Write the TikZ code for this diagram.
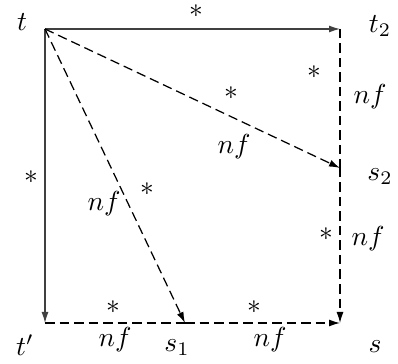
\documentclass[tikz,border=0pt]{standalone}
\usetikzlibrary{arrows.meta}
\begin{document}
\begin{tikzpicture}[x=0.4pt,y=-0.4pt,
  solidarrow/.style={line width=0.5pt,draw=black!75,-{Latex[length=4.4pt,width=2.8pt]}},
  dasharrow/.style={line width=0.5pt,dash pattern=on 3.8pt off 2pt,-{Latex[length=4.4pt,width=2.8pt]}},
  dashline/.style={line width=0.5pt,dash pattern=on 3.8pt off 2pt},
  lbl/.style={inner sep=0pt,scale=1.1}]
\useasboundingbox (0,0) rectangle (398,364);
\coordinate (t) at (45,29);
\coordinate (t2) at (340,29);
\coordinate (tp) at (45,323);
\coordinate (s) at (340,323);
\coordinate (s1) at (185,323);
\coordinate (s2) at (340,168);
% corner labels
\node[lbl] (lt) at (22,22) {$t$};
\node[lbl] (lt2) at (380,26) {$t_2$};
\node[lbl] (ls2) at (380,177) {$s_2$};
\node[lbl] (ltp) at (25,345) {$t'$};
\node[lbl] (ls1) at (177,348) {$s_1$};
\node[lbl] (ls) at (375,347) {$s$};
% connectors
\draw[solidarrow] (t) -- (t2);
\draw[solidarrow] (t) -- (tp);
\draw[dasharrow] (t) -- (s1);
\draw[dasharrow] (t) -- (s2);
\draw[dashline] (t2) -- (s2);
\draw[dasharrow] (s2) -- (s);
\draw[dashline] (tp) -- (s1);
\draw[dasharrow] (s1) -- (s);
% edge labels
\node[lbl] (a1) at (196,11) {$*$};
\node[lbl] (a2) at (31,177) {$*$};
\node[lbl] (a3) at (147,189) {$*$};
\node[lbl] (n3) at (104,204) {$nf$};
\node[lbl] (a4) at (231,93) {$*$};
\node[lbl] (n4) at (234,147) {$nf$};
\node[lbl] (a5) at (314,72) {$*$};
\node[lbl] (n5) at (370,97) {$nf$};
\node[lbl] (a6) at (326,234) {$*$};
\node[lbl] (n6) at (368,239) {$nf$};
\node[lbl] (a7) at (113,307) {$*$};
\node[lbl] (n7) at (115,340) {$nf$};
\node[lbl] (a8) at (254,307) {$*$};
\node[lbl] (n8) at (270,340) {$nf$};
\end{tikzpicture}
\end{document}
